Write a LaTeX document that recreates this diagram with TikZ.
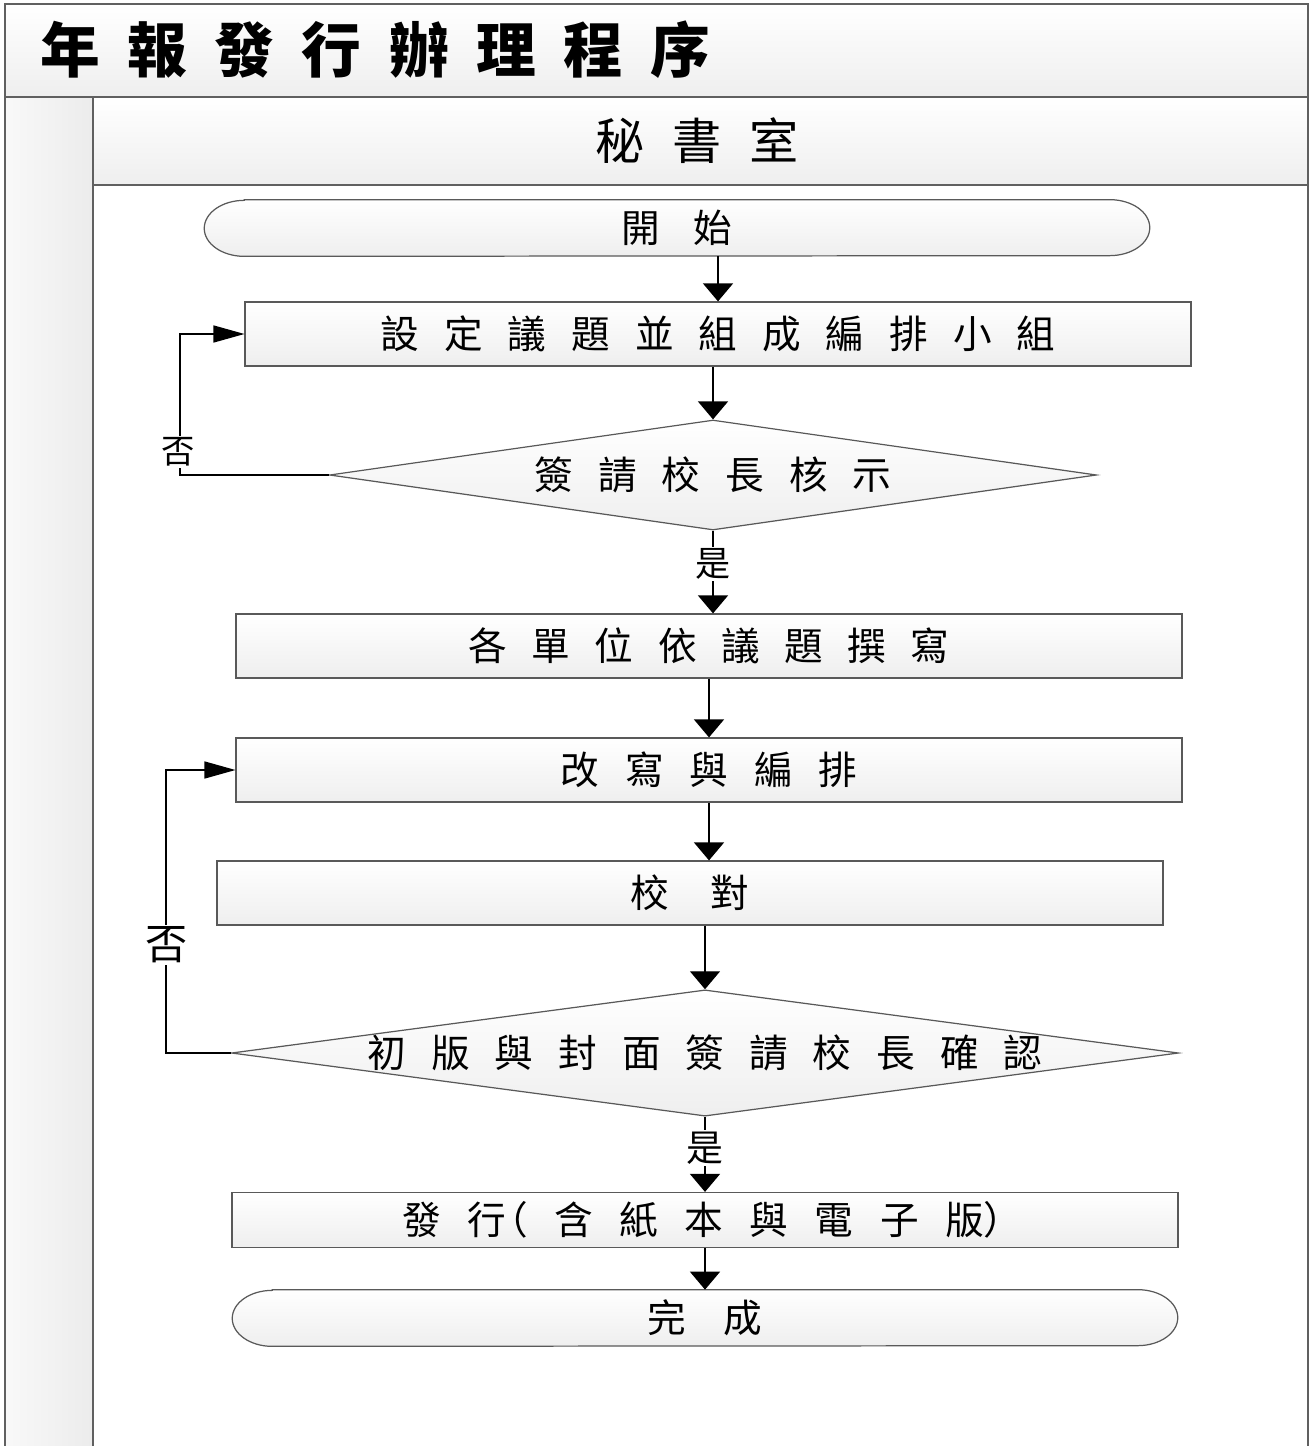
\documentclass[tikz,border=0pt]{standalone}
\usepackage{fontspec}
\setmainfont{Noto Sans CJK TC}
\usetikzlibrary{shapes.geometric,arrows.meta,backgrounds}

\makeatletter
\newcommand\gapped[2]{\def\gp@sep{}\@tfor\gp@c:=#2\do{\gp@sep\gp@c\def\gp@sep{\hspace{#1}}}}
\makeatother

\newcommand\titlefont{\fontsize{34}{40}\selectfont\bfseries}
\newcommand\lanefont{\fontsize{28}{33}\selectfont}
\newcommand\boxfont{\fontsize{22}{26}\selectfont}

\newcommand\termline[1]{%
  \begin{scope}[on background layer]
    \path[termshape] ([xshift=0.8cm]#1.north west) -- ([xshift=-0.8cm]#1.north east)
      arc[start angle=90,end angle=-90,x radius=0.8cm,y radius=0.56cm]
      -- ([xshift=0.8cm]#1.south west)
      arc[start angle=270,end angle=90,x radius=0.8cm,y radius=0.56cm] -- cycle;
  \end{scope}}

\tikzset{
  frame/.style={draw=gray!75!black,line width=0.7pt},
  stepbox/.style={rectangle,draw=gray!70!black,line width=0.7pt,top color=white,bottom color=gray!13,
    minimum width=18.92cm,minimum height=1.28cm,inner sep=0pt,font=\boxfont},
  decide/.style={diamond,draw=gray!70!black,line width=0.7pt,top color=white,bottom color=gray!13,
    aspect=7.5,inner sep=0pt,font=\boxfont},
  term/.style={rectangle,minimum width=18.9cm,minimum height=1.12cm,inner sep=0pt,font=\boxfont},
  termshape/.style={draw=gray!70!black,line width=0.7pt,top color=white,bottom color=gray!13},
  arrv/.style={-{Triangle[length=0.36cm,width=0.6cm]},line width=0.8pt},
  arrh/.style={-{Triangle[length=0.62cm,width=0.34cm]},line width=0.8pt},
  lbl/.style={fill=white,inner sep=1pt}
}

\begin{document}
\begin{tikzpicture}[x=0.02cm,y=-0.02cm]
\useasboundingbox (0,0) rectangle (1310,1446);

\shade[top color=white,bottom color=gray!13] (5,4) rectangle (1308,97);
\shade[left color=gray!5,right color=gray!15] (5,97) rectangle (93,1446);
\shade[top color=white,bottom color=gray!13] (93,97) rectangle (1308,185);
\draw[frame] (5,1446) -- (5,4) -- (1308,4) -- (1308,1446);
\draw[frame] (5,97) -- (1308,97);
\draw[frame] (93,1446) -- (93,97);
\draw[frame] (93,185) -- (1308,185);
\node[anchor=west,font=\titlefont] (title) at (34,50) {\gapped{0.55cm}{年報發行辦理程序}};
\node[font=\lanefont] (lane) at (697,141) {\gapped{0.56cm}{秘書室}};

\node[term] (start) at (677,228) {\gapped{0.68cm}{開始}};
\node[stepbox] (s1) at (718,334) {\gapped{0.5cm}{設定議題並組成編排小組}};
\node[decide,minimum width=15.34cm,minimum height=2.2cm] (d1) at (713,475) {\gapped{0.5cm}{簽請校長核示}};
\node[stepbox] (s2) at (709,646) {\gapped{0.49cm}{各單位依議題撰寫}};
\node[stepbox] (s3) at (709,770) {\gapped{0.52cm}{改寫與編排}};
\node[stepbox] (s4) at (690,893) {\gapped{0.84cm}{校對}};
\node[decide,minimum width=18.9cm,minimum height=2.52cm] (d2) at (705,1053) {\gapped{0.5cm}{初版與封面簽請校長確認}};
\node[stepbox,minimum height=1.1cm] (s5) at (705,1220) {\gapped{0.53cm}{發{行\kern-0.45em（}含紙本與電子{版）\kern-0.4em}}};
\node[term] (finish) at (705,1318) {\gapped{0.74cm}{完成}};
\termline{start}
\termline{finish}

\draw[arrv] (start.south -| s1.north) -- (s1.north);
\draw[arrv] (s1.south -| d1.north) -- (d1.north);
\draw[arrv] (d1.south) -- (d1.south |- s2.north) node[lbl,pos=0.4,font=\fontsize{20}{22}\selectfont] {是};
\draw[arrv] (s2.south) -- (s3.north);
\draw[arrv] (s3.south) -- (s3.south |- s4.north);
\draw[arrv] (s4.south -| d2.north) -- (d2.north);
\draw[arrv] (d2.south) -- (s5.north) node[lbl,pos=0.42,font=\fontsize{21}{23}\selectfont] {是};
\draw[arrv] (s5.south) -- (finish.north);

\draw[arrh] (d1.west) -- ++(-149,0) |- (s1.west);
\node[lbl,font=\fontsize{19}{21}\selectfont] (no1) at (178,452) {否};
\draw[arrh] (d2.west) -- ++(-65,0) |- (s3.west);
\node[lbl,font=\fontsize{24}{26}\selectfont] (no2) at (167,945) {否};
\end{tikzpicture}
\end{document}
